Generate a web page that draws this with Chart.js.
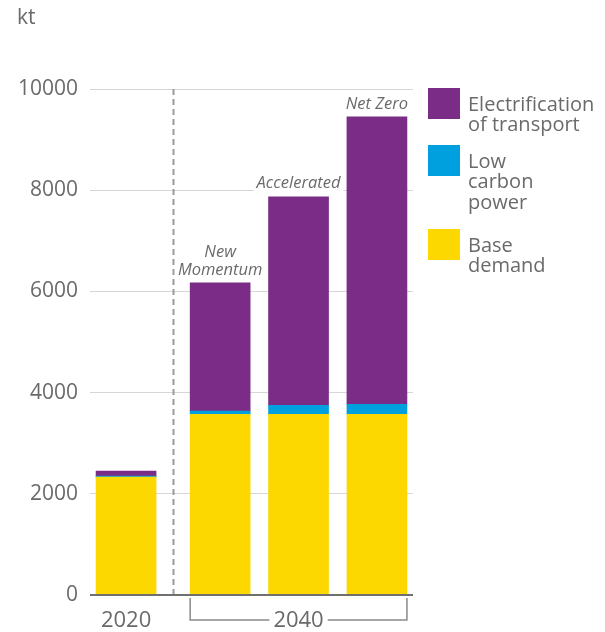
<!DOCTYPE html>
<html>
<head>
<meta charset="utf-8">
<script src="https://cdn.jsdelivr.net/npm/chart.js@4/dist/chart.umd.min.js"></script>
<style>
  html, body { margin: 0; padding: 0; background: #fff; }
  canvas { display: block; }
</style>
</head>
<body>
<canvas id="demandChart" width="605" height="632"></canvas>
<script>
// Chart data
const scenarios = ["2020", "New Momentum", "Accelerated", "Net Zero"];
const periods = ["2020", "2040", "2040", "2040"];
const scenarioLabels = [[], ["New", "Momentum"], ["Accelerated"], ["Net Zero"]];
const baseDemand = [2330, 3570, 3570, 3570];
const lowCarbonPower = [20, 65, 180, 200];
const electrification = [100, 2535, 4120, 5680];
const yTicks = [0, 2000, 4000, 6000, 8000, 10000];
const seriesNames = ["Base demand", "Low carbon power", "Electrification of transport"];
const legendLines = [["Electrification", "of transport"], ["Low", "carbon", "power"], ["Base", "demand"]];

const COLORS = {
    purple: "#7a2c86",
    blue: "#00a0df",
    yellow: "#fdd800",
    text: "#6a6a6a",
};
const FONT = "'Open Sans', 'Noto Sans', sans-serif";
const PERIOD_GAP = 0.2;

// x position per bar: extra space between 2020 and the 2040 group
const xPos = scenarios.map((s, i) => i + (periods[i] !== periods[0] ? PERIOD_GAP : 0));

function toPoints(values) {
    return values.map((v, i) => ({ x: xPos[i], y: v }));
}

const annotationsPlugin = {
    id: "annotations",
    beforeDatasetsDraw(chart) {
        const ctx = chart.ctx;
        const x = chart.scales.x;
        const area = chart.chartArea;
        // dashed divider between periods
        const dx = Math.round(x.getPixelForValue((xPos[0] + xPos[1]) / 2)) + 0.5;
        ctx.save();
        ctx.strokeStyle = "#9a9a9a";
        ctx.lineWidth = 2;
        ctx.setLineDash([6, 4]);
        ctx.beginPath();
        ctx.moveTo(dx, area.top);
        ctx.lineTo(dx, area.bottom);
        ctx.stroke();
        ctx.restore();
    },
    afterDatasetsDraw(chart) {
        const ctx = chart.ctx;
        const x = chart.scales.x;
        const y = chart.scales.y;
        const area = chart.chartArea;
        ctx.save();

        // baseline
        const by = Math.round(y.getPixelForValue(0));
        ctx.strokeStyle = "#6f6f6f";
        ctx.lineWidth = 2;
        ctx.beginPath();
        ctx.moveTo(area.left, by);
        ctx.lineTo(area.right, by);
        ctx.stroke();

        // scenario labels above bars
        const topMeta = chart.getDatasetMeta(chart.data.datasets.length - 1);
        ctx.font = "italic 16.5px " + FONT;
        ctx.textAlign = "center";
        ctx.textBaseline = "middle";
        scenarioLabels.forEach((lines, i) => {
            const bar = topMeta.data[i];
            lines.forEach((line, j) => {
                const ly = bar.y - 13 - (lines.length - 1 - j) * 18;
                const w = ctx.measureText(line).width;
                ctx.fillStyle = "#fff";
                ctx.fillRect(bar.x - w / 2 - 3, ly - 8, w + 6, 16);
                ctx.fillStyle = COLORS.text;
                ctx.fillText(line, bar.x, ly);
            });
        });

        // period labels under the axis
        ctx.font = "22px " + FONT;
        ctx.fillStyle = COLORS.text;
        const labelY = 621;
        ctx.fillText(periods[0], x.getPixelForValue(xPos[0]), labelY);

        const firstIdx = periods.indexOf("2040");
        const lastIdx = periods.lastIndexOf("2040");
        const half = 30;
        const left = x.getPixelForValue(xPos[firstIdx]) - half;
        const right = x.getPixelForValue(xPos[lastIdx]) + half;
        const mid = (left + right) / 2;
        const tw = ctx.measureText("2040").width;
        ctx.strokeStyle = "#8a8a8a";
        ctx.lineWidth = 1.5;
        ctx.beginPath();
        ctx.moveTo(left, by + 3);
        ctx.lineTo(left, 620);
        ctx.lineTo(mid - tw / 2 - 4, 620);
        ctx.moveTo(mid + tw / 2 + 4, 620);
        ctx.lineTo(right, 620);
        ctx.lineTo(right, by + 3);
        ctx.stroke();
        ctx.fillText("2040", mid, labelY);

        // unit
        ctx.textAlign = "left";
        ctx.font = "21px " + FONT;
        ctx.fillText("kt", 17, 18);

        // legend (top series first)
        const colors = [COLORS.purple, COLORS.blue, COLORS.yellow];
        let top = 88;
        ctx.font = "20px " + FONT;
        legendLines.forEach((lines, i) => {
            ctx.fillStyle = colors[i];
            ctx.fillRect(428, top, 32, 31);
            ctx.fillStyle = COLORS.text;
            lines.forEach((line, j) => {
                ctx.fillText(line, 468, top + 17 + j * 20.5);
            });
            top += lines.length * 27 + 3;
        });
        ctx.restore();
    },
};

new Chart(document.getElementById("demandChart").getContext("2d"), {
    type: "bar",
    data: {
        datasets: [
            { label: seriesNames[0], data: toPoints(baseDemand), backgroundColor: COLORS.yellow },
            { label: seriesNames[1], data: toPoints(lowCarbonPower), backgroundColor: COLORS.blue },
            { label: seriesNames[2], data: toPoints(electrification), backgroundColor: COLORS.purple },
        ],
    },
    options: {
        responsive: false,
        animation: false,
        layout: { padding: { top: 89, right: 192, bottom: 37, left: 0 } },
        datasets: { bar: { barThickness: 60 } },
        plugins: {
            legend: { display: false },
            tooltip: { enabled: false },
        },
        scales: {
            x: {
                type: "linear",
                stacked: true,
                offset: false,
                min: -0.46,
                max: 3.66,
                display: false,
            },
            y: {
                stacked: true,
                min: 0,
                max: 10000,
                afterFit(scale) { scale.width = 90; },
                afterBuildTicks(scale) { scale.ticks = yTicks.map((v) => ({ value: v })); },
                border: { display: false },
                grid: { color: "#d6d6d6", lineWidth: 1, drawTicks: false },
                ticks: {
                    padding: 12,
                    color: COLORS.text,
                    font: { family: FONT, size: 21 },
                    callback: (v) => String(v),
                },
            },
        },
    },
    plugins: [annotationsPlugin],
});
</script>
</body>
</html>
